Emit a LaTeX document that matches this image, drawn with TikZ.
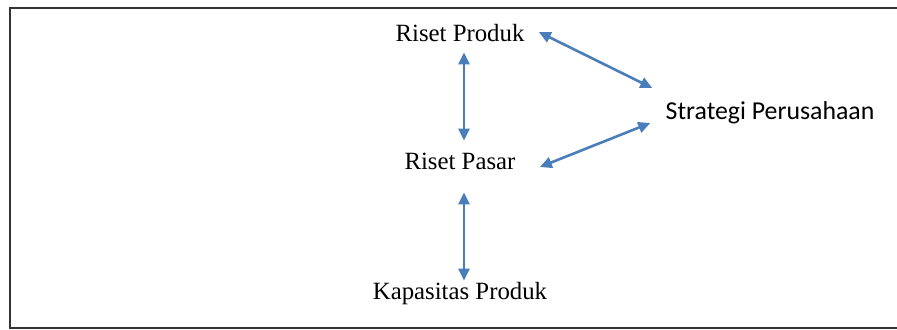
\documentclass[tikz,border=0pt]{standalone}
\usepackage{fontspec}
\setmainfont{Liberation Serif}
\newfontfamily\calibrifont{Carlito}
\usetikzlibrary{arrows.meta, calc}
\definecolor{arrowblue}{HTML}{4A7EBB}

\begin{document}
\begin{tikzpicture}[x=0.5pt, y=-0.5pt,
    every node/.style={font=\fontsize{12.4}{14}\selectfont, inner sep=2pt, text height=8.5pt, text depth=2.5pt},
    link/.style={draw=arrowblue, line width=1.3pt, {Triangle[length=6pt,width=5.5pt]}-{Triangle[length=6pt,width=5.5pt]}}]
    \useasboundingbox (0,0) rectangle (897,329);
    \clip (0,0) rectangle (897,329);
    
    \draw[line width=1pt, black!80] (920,7.5) -- (9.5,7.5) -- (9.5,327.5) -- (920,327.5);
    
    \node (produk) at (460,35) {Riset Produk};
    \node (pasar) at (460,163) {Riset Pasar};
    \node (kapasitas) at (460,293) {Kapasitas Produk};
    \node (strategi) at (770,113) {\fontsize{12.9}{14}\selectfont\calibrifont Strategi Perusahaan};
    
    \draw[link] ($(produk.south)+(4,2)$) -- ($(pasar.north)+(4,-7)$);
    \draw[link] ($(pasar.south)+(4,14)$) -- ($(kapasitas.north)+(4,3)$);
    \draw[link] ($(produk.east)+(10,-3)$) -- ($(strategi.west)+(-9,-25)$);
    \draw[link] ($(pasar.east)+(20,4)$) -- ($(strategi.west)+(-11,10)$);
\end{tikzpicture}
\end{document}
